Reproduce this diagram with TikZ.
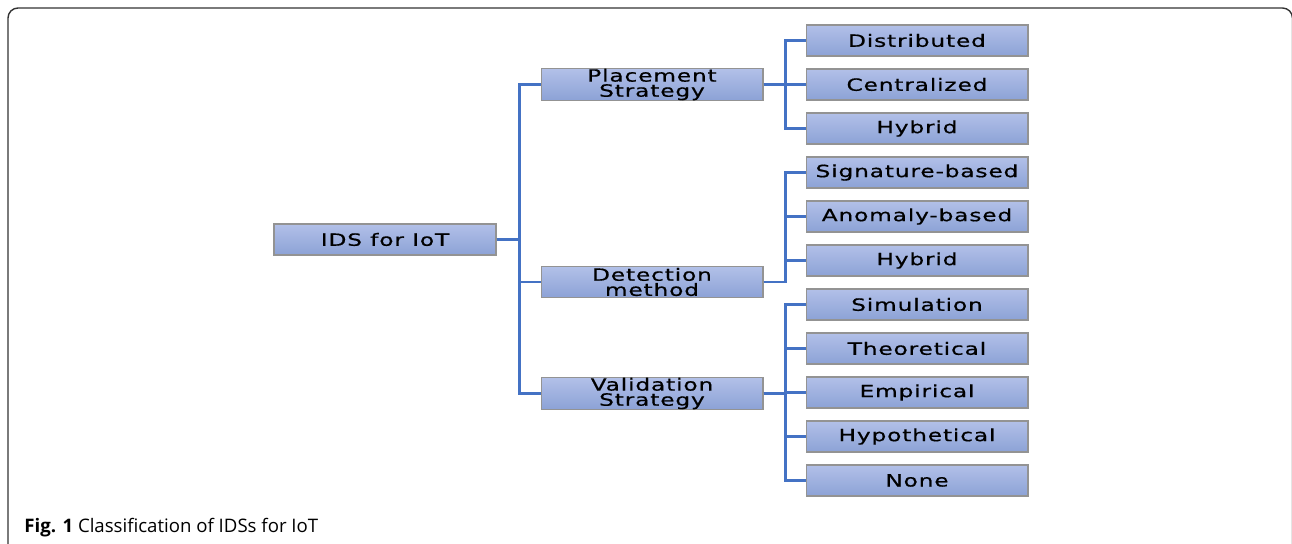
\documentclass[tikz,border=0pt]{standalone}
\usepackage{fontspec}
\setmainfont{DejaVu Sans}
\newfontfamily\boxfont[FakeStretch=1.38,LetterSpace=5,FakeBold=0.6]{DejaVu Sans}
\newfontfamily\capfont{Open Sans}
\definecolor{linkblue}{RGB}{68,114,196}
\definecolor{boxtop}{RGB}{178,192,232}
\definecolor{boxbottom}{RGB}{140,162,214}

\begin{document}
\begin{tikzpicture}[x=0.02cm,y=-0.02cm]
    \tikzstyle{branch}=[draw=linkblue,line width=1.4pt]
    \tikzstyle{category}=[rectangle,draw=gray!85,line width=0.6pt,top color=boxtop,bottom color=boxbottom,
        minimum width=4.44cm,minimum height=0.62cm,inner sep=0pt,align=center,
        font=\boxfont\fontsize{9.6}{8.6}\selectfont]
    \tikzstyle{frame}=[draw=black!80,line width=0.8pt,rounded corners=0.2cm]

    \useasboundingbox (0,0) rectangle (1292,544);
    \draw[frame] (8,600) |- (1292.5,8) -- (1292.5,600);

    % Draw the root and the three criteria
    \node[category] (root) at (385,239.5) {IDS for IoT};
    \node[category] (ps) at (652,84.5) {Placement\\Strategy};
    \node[category] (dm) at (652,282) {Detection\\method};
    \node[category] (vs) at (652,393.5) {Validation\\Strategy};

    % Draw the leaves, one below the other
    \foreach \name/\txt [count=\i from 0] in {dist/Distributed,cent/Centralized,hyba/Hybrid,
        sig/Signature-based,anom/Anomaly-based,hybb/Hybrid,sim/Simulation,theo/Theoretical,
        emp/Empirical,hyp/Hypothetical,none/None}
        \node[category] (\name) at (917,40.5+44*\i) {\txt};

    % Connect the root with every criterion
    \foreach \dest in {ps,dm,vs}
        \draw[branch] (root.east) -- ++(23,0) |- (\dest.west);

    % Connect every criterion with its leaves
    \foreach \dest in {dist,cent,hyba}
        \draw[branch] (ps.east) -- ++(22,0) |- (\dest.west);
    \foreach \dest in {sig,anom,hybb}
        \draw[branch] (dm.east) -- ++(22,0) |- (\dest.west);
    \foreach \dest in {sim,theo,emp,hyp,none}
        \draw[branch] (vs.east) -- ++(22,0) |- (\dest.west);

    \node[anchor=base west,inner sep=0pt,font=\capfont\fontsize{10.6}{12}\selectfont] (caption) at (24,532)
        {\textbf{Fig. 1} Classification of IDSs for IoT};
\end{tikzpicture}
\end{document}
